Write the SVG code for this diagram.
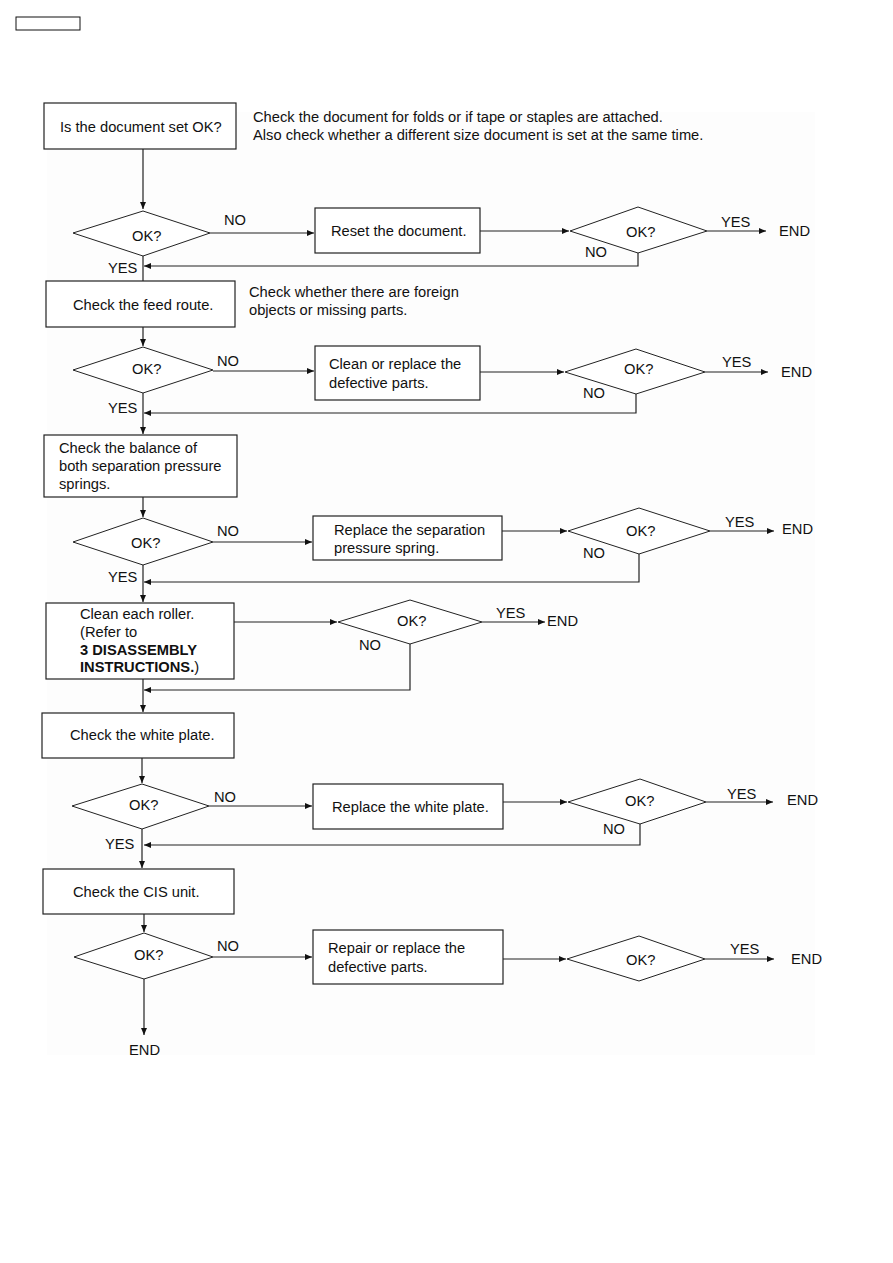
<svg xmlns="http://www.w3.org/2000/svg" width="893" height="1263" viewBox="0 0 893 1263">
<defs>
<marker id="ah" markerWidth="8" markerHeight="8" refX="7" refY="4" orient="auto" markerUnits="userSpaceOnUse">
<path d="M0,1 L7,4 L0,7 Z" fill="#111"/>
</marker>
<style>
.box{fill:#fff;stroke:#222;stroke-width:1.2}
.dia{fill:#fff;stroke:#222;stroke-width:1}
.ln{fill:none;stroke:#222;stroke-width:1.2}
.t{font-family:"Liberation Sans",Arial,sans-serif;font-size:14.7px;fill:#111}
.b{font-weight:bold}
</style>
</defs>
<rect width="893" height="1263" fill="#fff"/>
<rect x="47" y="112" width="768" height="943" fill="#fdfdfd"/>
<rect id="hdr" x="16" y="17" width="64" height="13" fill="#fff" stroke="#111" stroke-width="1"/>

<g id="connectors">
<path class="ln" d="M143,149 V209" marker-end="url(#ah)"/>
<path class="ln" d="M210,233 H314" marker-end="url(#ah)"/>
<path class="ln" d="M480,231 H569" marker-end="url(#ah)"/>
<path class="ln" d="M707,231 H766" marker-end="url(#ah)"/>
<path class="ln" d="M638,253 V266 H144" marker-end="url(#ah)"/>
<path class="ln" d="M143,256 V281"/>
<path class="ln" d="M143,327 V346" marker-end="url(#ah)"/>
<path class="ln" d="M213,371 H314" marker-end="url(#ah)"/>
<path class="ln" d="M480,372 H564" marker-end="url(#ah)"/>
<path class="ln" d="M705,372 H768" marker-end="url(#ah)"/>
<path class="ln" d="M636,394 V413 H144" marker-end="url(#ah)"/>
<path class="ln" d="M143,393 V434" marker-end="url(#ah)"/>
<path class="ln" d="M143,497 V517" marker-end="url(#ah)"/>
<path class="ln" d="M213,542 H312" marker-end="url(#ah)"/>
<path class="ln" d="M502,531 H567" marker-end="url(#ah)"/>
<path class="ln" d="M710,531 H774" marker-end="url(#ah)"/>
<path class="ln" d="M639,554 V582 H144" marker-end="url(#ah)"/>
<path class="ln" d="M143,565 V602" marker-end="url(#ah)"/>
<path class="ln" d="M234,622 H337" marker-end="url(#ah)"/>
<path class="ln" d="M482,622 H545" marker-end="url(#ah)"/>
<path class="ln" d="M410,644 V690 H144" marker-end="url(#ah)"/>
<path class="ln" d="M143,679 V712" marker-end="url(#ah)"/>
<path class="ln" d="M142,758 V783" marker-end="url(#ah)"/>
<path class="ln" d="M209,806 H312" marker-end="url(#ah)"/>
<path class="ln" d="M503,802 H567" marker-end="url(#ah)"/>
<path class="ln" d="M706,802 H773" marker-end="url(#ah)"/>
<path class="ln" d="M640,824 V845 H144" marker-end="url(#ah)"/>
<path class="ln" d="M142,829 V868" marker-end="url(#ah)"/>
<path class="ln" d="M144,914 V932" marker-end="url(#ah)"/>
<path class="ln" d="M213,957 H312" marker-end="url(#ah)"/>
<path class="ln" d="M503,959 H566" marker-end="url(#ah)"/>
<path class="ln" d="M705,959 H774" marker-end="url(#ah)"/>
<path class="ln" d="M144,979 V1035" marker-end="url(#ah)"/>
</g>

<g id="n-doc"><rect class="box" x="44" y="103" width="192" height="46"/><text class="t" x="60" y="132">Is the document set OK?</text></g>
<g id="note1"><text class="t" x="253" y="122">Check the document for folds or if tape or staples are attached.</text><text class="t" x="253" y="140">Also check whether a different size document is set at the same time.</text></g>

<g id="d1"><polygon class="dia" points="143,211 210,233 143,256 73,233"/><text class="t" x="132" y="241">OK?</text></g>
<text class="t" x="224" y="225">NO</text>
<g id="n-reset"><rect class="box" x="315" y="208" width="165" height="45"/><text class="t" x="331" y="236">Reset the document.</text></g>
<g id="d2"><polygon class="dia" points="638,207 707,231 638,253 570,231"/><text class="t" x="626" y="237">OK?</text></g>
<text class="t" x="721" y="227">YES</text><text class="t" x="779" y="236">END</text>
<text class="t" x="585" y="257">NO</text>
<text class="t" x="108" y="273">YES</text>

<g id="n-feed"><rect class="box" x="46" y="281" width="189" height="46"/><text class="t" x="73" y="310">Check the feed route.</text></g>
<g id="note2"><text class="t" x="249" y="297">Check whether there are foreign</text><text class="t" x="249" y="315">objects or missing parts.</text></g>

<g id="d3"><polygon class="dia" points="143,347 213,370 143,393 73,370"/><text class="t" x="132" y="374">OK?</text></g>
<text class="t" x="217" y="366">NO</text>
<g id="n-clean"><rect class="box" x="315" y="346" width="165" height="54"/><text class="t" x="329" y="369">Clean or replace the</text><text class="t" x="329" y="388">defective parts.</text></g>
<g id="d4"><polygon class="dia" points="636,349 705,372 636,394 565,372"/><text class="t" x="624" y="374">OK?</text></g>
<text class="t" x="722" y="367">YES</text><text class="t" x="781" y="377">END</text>
<text class="t" x="583" y="398">NO</text>
<text class="t" x="108" y="413">YES</text>

<g id="n-balance"><rect class="box" x="44" y="435" width="193" height="62"/><text class="t" x="59" y="453">Check the balance of</text><text class="t" x="59" y="471">both separation pressure</text><text class="t" x="59" y="489">springs.</text></g>

<g id="d5"><polygon class="dia" points="143,518 213,542 143,565 73,542"/><text class="t" x="131" y="548">OK?</text></g>
<text class="t" x="217" y="536">NO</text>
<g id="n-sep"><rect class="box" x="313" y="516" width="189" height="44"/><text class="t" x="334" y="535">Replace the separation</text><text class="t" x="334" y="553">pressure spring.</text></g>
<g id="d6"><polygon class="dia" points="639,508 710,531 639,554 568,531"/><text class="t" x="626" y="536">OK?</text></g>
<text class="t" x="725" y="527">YES</text><text class="t" x="782" y="534">END</text>
<text class="t" x="583" y="558">NO</text>
<text class="t" x="108" y="582">YES</text>

<g id="n-roller"><rect class="box" x="46" y="603" width="188" height="76"/><text class="t" x="80" y="619">Clean each roller.</text><text class="t" x="80" y="637">(Refer to</text><text class="t b" x="80" y="655">3 DISASSEMBLY</text><text class="t" x="80" y="672"><tspan class="b">INSTRUCTIONS.</tspan>)</text></g>
<g id="d7"><polygon class="dia" points="410,600 482,622 410,644 338,622"/><text class="t" x="397" y="626">OK?</text></g>
<text class="t" x="496" y="618">YES</text><text class="t" x="547" y="626">END</text>
<text class="t" x="359" y="650">NO</text>

<g id="n-white"><rect class="box" x="42" y="713" width="192" height="45"/><text class="t" x="70" y="740">Check the white plate.</text></g>
<g id="d8"><polygon class="dia" points="142,784 209,806 142,829 72,806"/><text class="t" x="129" y="810">OK?</text></g>
<text class="t" x="214" y="802">NO</text>
<g id="n-rwhite"><rect class="box" x="313" y="784" width="190" height="45"/><text class="t" x="332" y="812">Replace the white plate.</text></g>
<g id="d9"><polygon class="dia" points="640,779 706,802 640,824 568,802"/><text class="t" x="625" y="806">OK?</text></g>
<text class="t" x="727" y="799">YES</text><text class="t" x="787" y="805">END</text>
<text class="t" x="603" y="834">NO</text>
<text class="t" x="105" y="849">YES</text>

<g id="n-cis"><rect class="box" x="43" y="869" width="191" height="45"/><text class="t" x="73" y="897">Check the CIS unit.</text></g>
<g id="d10"><polygon class="dia" points="144,933 213,957 144,979 74,957"/><text class="t" x="134" y="960">OK?</text></g>
<text class="t" x="217" y="951">NO</text>
<g id="n-repair"><rect class="box" x="313" y="930" width="190" height="54"/><text class="t" x="328" y="953">Repair or replace the</text><text class="t" x="328" y="972">defective parts.</text></g>
<g id="d11"><polygon class="dia" points="639,936 705,959 639,981 567,959"/><text class="t" x="626" y="965">OK?</text></g>
<text class="t" x="730" y="954">YES</text><text class="t" x="791" y="964">END</text>
<text class="t" x="129" y="1055">END</text>
</svg>
